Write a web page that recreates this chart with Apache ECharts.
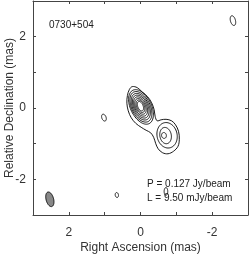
<!DOCTYPE html>
<html><head><meta charset="utf-8">
<script src="https://cdn.jsdelivr.net/npm/echarts@6/dist/echarts.min.js"></script>
<style>html,body{margin:0;padding:0;background:#fff}#c{width:249px;height:254px}</style>
</head><body><div id="c"></div>
<script>
// ---- data (mas) ----
const sourceName = '0730+504';
const peakText = 'P = 0.127 Jy/beam';
const lowestText = 'L = 9.50 mJy/beam';
const tickLabels = [-2, 0, 2];
const axisRange = [-3, 3];

// lowest contour enclosing core + jet component: [RA, Dec]
const outerContour = [
  [0.23, 0.60], [0.09, 0.57], [-0.047, 0.45], [-0.2, 0.314], [-0.311, 0.146],
  [-0.381, -0.05], [-0.408, -0.232], [-0.464, -0.359], [-0.575, -0.331], [-0.714, -0.317],
  [-0.867, -0.359], [-0.978, -0.471], [-1.061, -0.653], [-1.083, -0.877], [-1.047, -1.073],
  [-0.922, -1.213], [-0.769, -1.283], [-0.617, -1.255], [-0.492, -1.143], [-0.422, -0.989],
  [-0.367, -0.821], [-0.283, -0.695], [-0.158, -0.625], [-0.019, -0.541], [0.133, -0.429],
  [0.258, -0.275], [0.342, -0.078], [0.38, 0.132], [0.365, 0.35], [0.31, 0.52]
];
// elliptical contours: [RA centre, Dec centre, semi-major, semi-minor, position angle deg]
const coreContours = [
  [-0.014, 0.030, 0.52, 0.29, 64],
  [-0.011, 0.033, 0.46, 0.258, 64],
  [-0.008, 0.036, 0.40, 0.226, 64],
  [-0.006, 0.039, 0.345, 0.195, 64],
  [-0.003, 0.042, 0.29, 0.165, 64],
  [0.0, 0.045, 0.235, 0.135, 64],
  [0.001, 0.048, 0.185, 0.105, 66],
  [0.002, 0.05, 0.14, 0.075, 68]
];
const jetContours = [
  [-0.742, -0.765, 0.36, 0.28, 78],
  [-0.70, -0.773, 0.23, 0.16, 80],
  [-0.655, -0.77, 0.083, 0.067, 80]
];
const isolatedContours = [
  [-2.58, 2.45, 0.14, 0.07, 75],
  [1.02, -0.27, 0.10, 0.06, 70],
  [0.66, -2.44, 0.07, 0.045, 80],
  [-0.71, -2.34, 0.11, 0.05, 90]
];
const beam = [[2.53, -2.56, 0.21, 0.105, 75]];

// ---- chart ----
const FONT = '"Liberation Sans", Arial, sans-serif';
const TXT = '#333';
const AX = '#444';

function ellipsePoints(api) {
  const cx = api.value(0), cy = api.value(1), a = api.value(2), b = api.value(3);
  const th = api.value(4) * Math.PI / 180;
  const pts = [];
  for (let i = 0; i < 72; i++) {
    const t = i / 72 * 2 * Math.PI;
    const u = a * Math.cos(t), v = b * Math.sin(t);
    pts.push(api.coord([cx + u * Math.cos(th) - v * Math.sin(th), cy + u * Math.sin(th) + v * Math.cos(th)]));
  }
  return pts;
}
function contourSeries(data, fill) {
  return {
    type: 'custom', xAxisIndex: 0, yAxisIndex: 0, silent: true, clip: true,
    data: data,
    encode: { x: 0, y: 1 },
    renderItem: function (params, api) {
      return { type: 'polygon', shape: { points: ellipsePoints(api) },
        style: { fill: fill || 'none', stroke: '#000', lineWidth: 0.9 } };
    }
  };
}

const axisBase = {
  type: 'value', min: axisRange[0], max: axisRange[1], interval: 1,
  axisLine: { show: true, onZero: false, lineStyle: { color: AX, width: 1 } },
  axisTick: { show: true, inside: true, length: 3, lineStyle: { color: AX } },
  splitLine: { show: false }
};
const labelFmt = function (v) { return tickLabels.indexOf(v) >= 0 ? String(v) : ''; };

const chart = echarts.init(document.getElementById('c'), null, { renderer: 'canvas' });
chart.setOption({
  animation: false,
  backgroundColor: '#fff',
  grid: { left: 33, right: 1, top: 1, bottom: 39, containLabel: false, outerBoundsMode: 'none' },
  xAxis: [
    Object.assign({}, axisBase, {
      position: 'bottom', inverse: true,
      name: 'Right Ascension (mas)', nameLocation: 'middle', nameGap: 27, nameMoveOverlap: false,
      nameTextStyle: { fontSize: 12, color: TXT, fontFamily: FONT },
      axisLabel: { formatter: labelFmt, margin: 12, fontSize: 12, color: TXT, fontFamily: FONT }
    }),
    Object.assign({}, axisBase, { position: 'top', inverse: true, axisLabel: { show: false } })
  ],
  yAxis: [
    Object.assign({}, axisBase, {
      position: 'left',
      name: 'Relative Declination (mas)', nameLocation: 'middle', nameGap: 17, nameMoveOverlap: false,
      nameTextStyle: { fontSize: 12, color: TXT, fontFamily: FONT },
      axisLabel: { formatter: labelFmt, margin: 7, fontSize: 12, color: TXT, fontFamily: FONT }
    }),
    Object.assign({}, axisBase, { position: 'right', axisLabel: { show: false } })
  ],
  graphic: [
    { type: 'text', x: 49, y: 25, style: { text: sourceName, font: '10px ' + FONT, fill: '#222', verticalAlign: 'middle' } },
    { type: 'text', x: 147, y: 184, style: { text: peakText, font: '10px ' + FONT, fill: '#222', verticalAlign: 'middle' } },
    { type: 'text', x: 147, y: 198, style: { text: lowestText, font: '10px ' + FONT, fill: '#222', verticalAlign: 'middle' } }
  ],
  series: [
    {
      type: 'custom', xAxisIndex: 0, yAxisIndex: 0, silent: true, clip: true,
      data: outerContour, encode: { x: 0, y: 1 },
      renderItem: function (params, api) {
        if (params.dataIndex !== 0) return null;
        const pts = outerContour.map(function (p) { return api.coord(p); });
        return { type: 'polygon', shape: { points: pts, smooth: 0.35 },
          style: { fill: 'none', stroke: '#000', lineWidth: 0.9 } };
      }
    },
    contourSeries(coreContours),
    contourSeries(jetContours),
    contourSeries(isolatedContours),
    contourSeries(beam, '#888')
  ]
});
</script></body></html>
